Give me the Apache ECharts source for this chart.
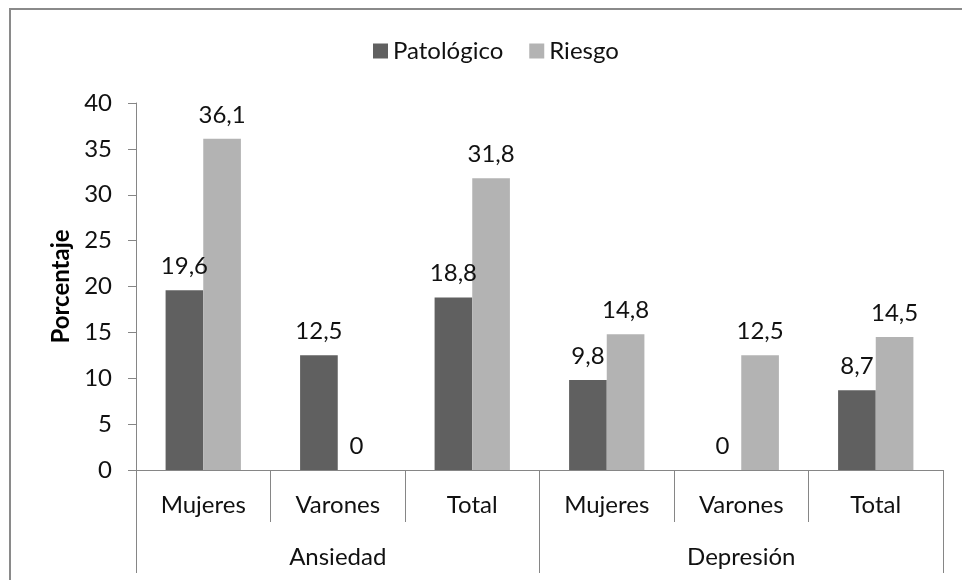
<!DOCTYPE html>
<html>
<head>
<meta charset="utf-8">
<script src="https://cdn.jsdelivr.net/npm/echarts@6/dist/echarts.min.js"></script>
<style>
  html, body { margin: 0; padding: 0; background: #fff; }
  #chart { width: 962px; height: 580px; }
</style>
</head>
<body>
<div id="chart"></div>
<script>
// categorias y valores
const subgrupos = ['Mujeres', 'Varones', 'Total', 'Mujeres', 'Varones', 'Total'];
const grupos = ['Ansiedad', 'Depresión'];
const patologico = [19.6, 12.5, 18.8, 9.8, 0, 8.7];
const riesgo = [36.1, 0, 31.8, 14.8, 12.5, 14.5];

const fuente = 'Lato';
const tam = 24;
const gris = '#868686';

let coma = (p) => String(p.value).replace('.', ',');

let etiqueta = {
    show: true,
    position: 'top',
    distance: 12,
    color: '#111',
    fontFamily: fuente,
    fontSize: tam,
    formatter: coma
};

let option = {
    animation: false,
    backgroundColor: '#fff',
    color: ['#606060', '#b3b3b3'],
    graphic: [{
        type: 'rect',
        shape: { x: 10, y: 9, width: 1000, height: 1000 },
        style: { fill: 'none', stroke: '#8a8a8a', lineWidth: 2 }
    }],
    legend: {
        top: 34,
        left: 368,
        itemWidth: 15,
        itemHeight: 15,
        itemGap: 26,
        icon: 'rect',
        textStyle: { fontFamily: fuente, fontSize: tam, color: '#111' },
        data: ['Patológico', 'Riesgo']
    },
    grid: { left: 136, right: 19, top: 103, bottom: 110 },
    xAxis: [
        {
            type: 'category',
            data: subgrupos,
            axisLine: { lineStyle: { color: gris } },
            axisTick: { show: true, interval: 0, length: 52, lineStyle: { color: gris } },
            axisLabel: { interval: 0, margin: 23, color: '#111', fontFamily: fuente, fontSize: tam }
        },
        {
            type: 'category',
            position: 'bottom',
            data: grupos,
            axisLine: { show: false },
            axisTick: { show: true, interval: 0, length: 103, lineStyle: { color: gris } },
            axisLabel: { interval: 0, margin: 75, color: '#111', fontFamily: fuente, fontSize: tam }
        }
    ],
    yAxis: {
        type: 'value',
        min: 0,
        max: 40,
        interval: 5,
        name: 'Porcentaje',
        nameLocation: 'middle',
        nameGap: 62,
        nameTextStyle: { fontFamily: fuente, fontSize: tam, fontWeight: 'bold', color: '#000' },
        axisLine: { show: true, lineStyle: { color: gris } },
        axisTick: { show: true, length: 8, lineStyle: { color: gris } },
        axisLabel: { margin: 24, color: '#111', fontFamily: fuente, fontSize: tam },
        splitLine: { show: false }
    },
    series: [
        {
            name: 'Patológico',
            type: 'bar',
            data: patologico,
            barWidth: '28%',
            barGap: '0%',
            label: etiqueta
        },
        {
            name: 'Riesgo',
            type: 'bar',
            data: riesgo,
            barWidth: '28%',
            barGap: '0%',
            label: etiqueta
        }
    ]
};

var myChart = echarts.init(document.getElementById('chart'));
myChart.setOption(option);
</script>
</body>
</html>
